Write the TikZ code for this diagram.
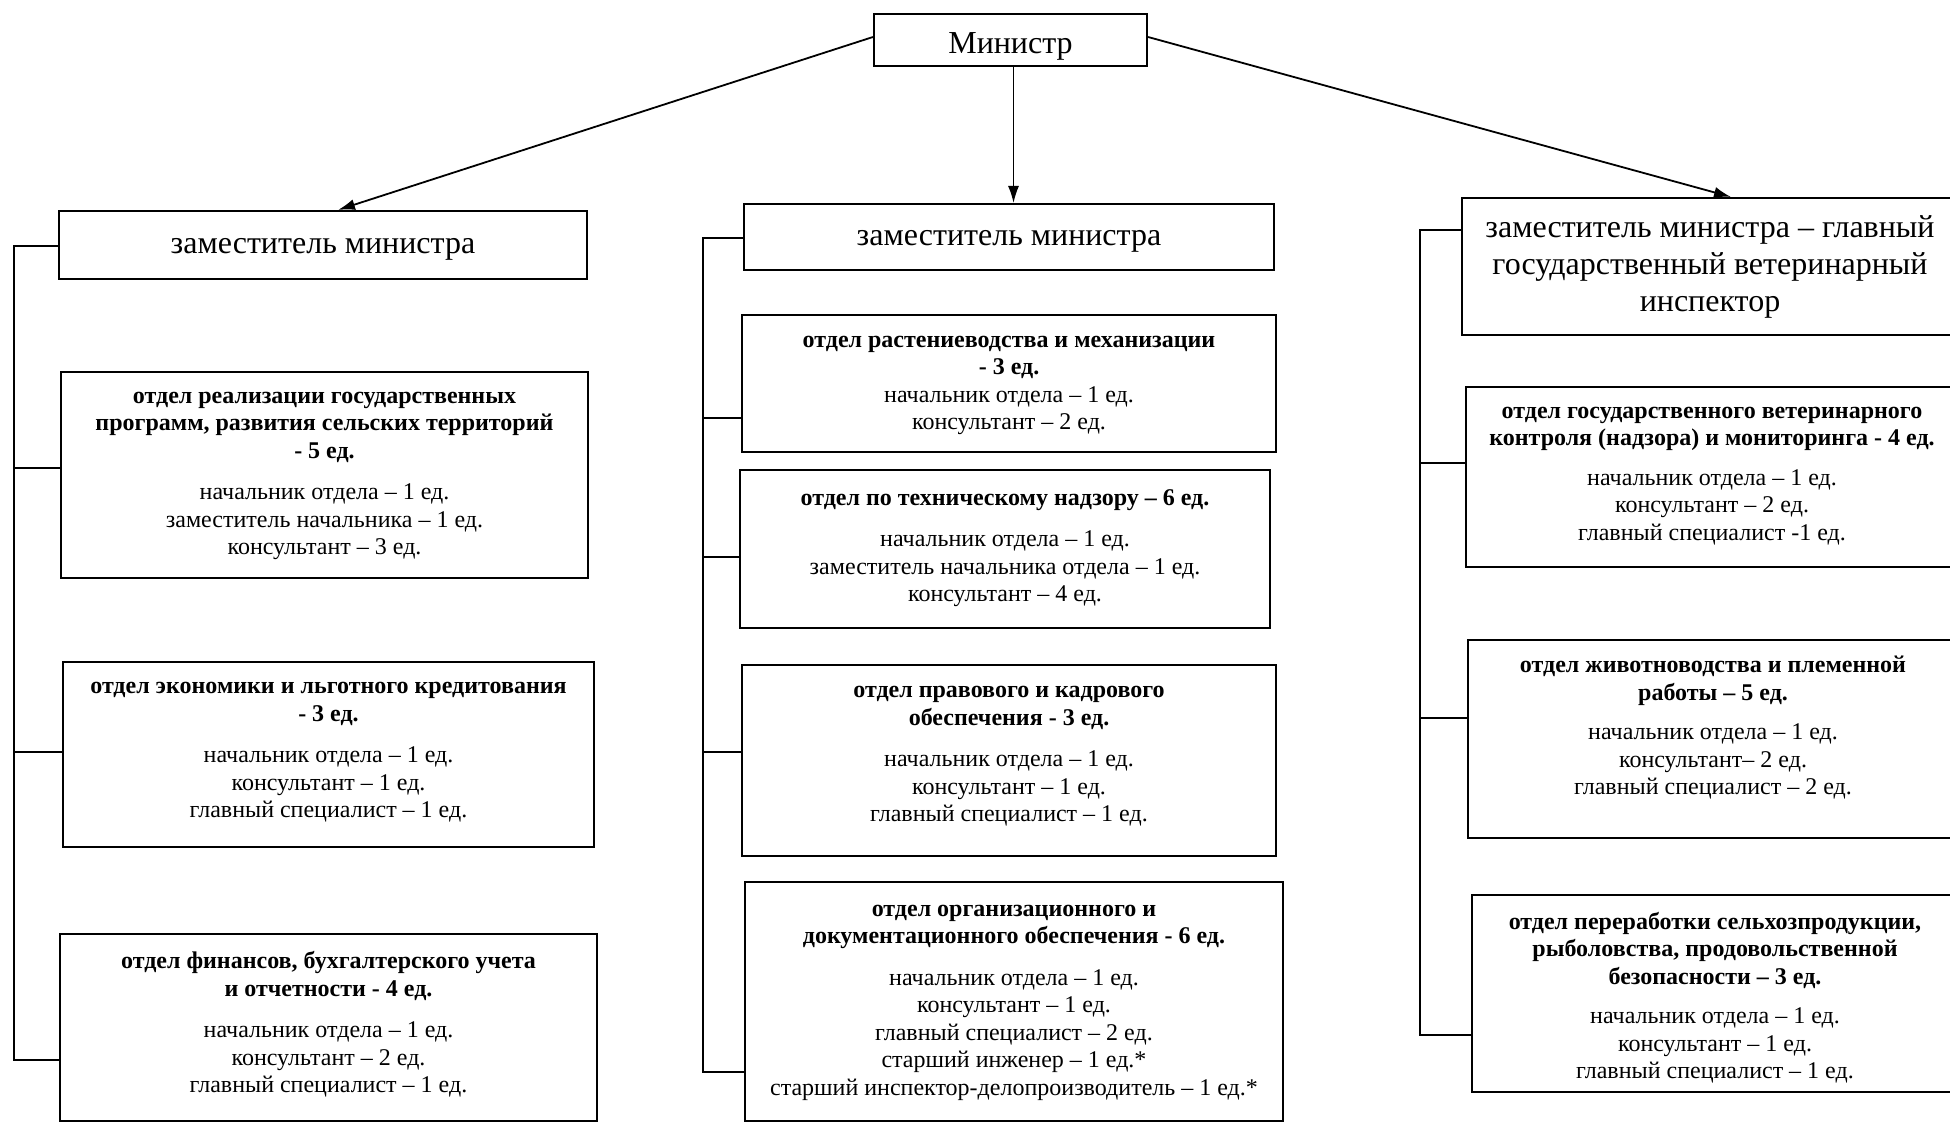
\documentclass[tikz,border=0pt]{standalone}
\usepackage{fontspec}
\setmainfont{Liberation Serif}
\usetikzlibrary{arrows.meta}
\newcommand\bt[1]{\textbf{#1}}
% #1 name, #2 x1, #3 y1, #4 x2, #5 y2, #6 text dy, #7 connection y, #8 font style, #9 text
\newcommand\bx[9]{%
  \node[boxshape, minimum width={(#4-#2)*1pt}, minimum height={(#5-#3)*1pt}] (#1) at ({(#2+#4)/2},{(#3+#5)/2}) {};
  \node[#8] (#1t) at ({(#2+#4)/2},{(#3+#5)/2+#6}) {#9};
  \coordinate (#1c) at ([yshift={((#3+#5)/2-#7)*1pt}]#1.west);
}
\begin{document}
\begin{tikzpicture}[x=1pt,y=-1pt,
  boxshape/.style={draw, rectangle, inner sep=0pt, line width=2.1pt},
  depttext/.style={inner sep=0pt, align=center, font=\fontsize{24pt}{27.5pt}\selectfont},
  deptext/.style={inner sep=0pt, align=center, font=\fontsize{32pt}{37pt}\selectfont},
  conn/.style={line width=1.7pt},
  arr/.style={line width=1.8pt, -{Latex[length=17pt,width=11pt]}}]
\fill[white] (0,0) rectangle (1950,1123);
\useasboundingbox (0,0) rectangle (1950,1123);

% top level
\bx{min}{874}{14}{1147}{66}{6}{40}{deptext}{Министр}
\bx{dl}{59}{211}{587}{279}{4}{246}{deptext}{заместитель министра}
\bx{dm}{744}{204}{1274}{270}{4}{238}{deptext}{заместитель министра}
\bx{dr}{1462}{198}{1958}{335}{0}{230}{deptext}{заместитель министра – главный\\государственный ветеринарный\\инспектор}

% left column
\bx{l1}{61}{372}{588}{578}{1}{468}{depttext}{\bt{отдел реализации государственных}\\\bt{программ, развития сельских территорий}\\\bt{- 5 ед.}\\[14pt]начальник отдела – 1 ед.\\заместитель начальника – 1 ед.\\консультант – 3 ед.}
\bx{l2}{63}{662}{594}{847}{-2}{752}{depttext}{\bt{отдел экономики и льготного кредитования}\\\bt{- 3 ед.}\\[14pt]начальник отдела – 1 ед.\\консультант – 1 ед.\\главный специалист – 1 ед.}
\bx{l3}{60}{934}{597}{1121}{-3}{1060}{depttext}{\bt{отдел финансов, бухгалтерского учета}\\\bt{и отчетности - 4 ед.}\\[14pt]начальник отдела – 1 ед.\\консультант – 2 ед.\\главный специалист – 1 ед.}

% middle column
\bx{m1}{742}{315}{1276}{452}{2}{418}{depttext}{\bt{отдел растениеводства и механизации}\\\bt{- 3 ед.}\\начальник отдела – 1 ед.\\консультант – 2 ед.}
\bx{m2}{740}{470}{1270}{628}{-1}{557}{depttext}{\bt{отдел по техническому надзору – 6 ед.}\\[14pt]начальник отдела – 1 ед.\\заместитель начальника отдела – 1 ед.\\консультант – 4 ед.}
\bx{m3}{742}{665}{1276}{856}{-4}{752}{depttext}{\bt{отдел правового и кадрового}\\\bt{обеспечения - 3 ед.}\\[14pt]начальник отдела – 1 ед.\\консультант – 1 ед.\\главный специалист – 1 ед.}
\bx{m4}{745}{882}{1283}{1121}{1}{1072}{depttext}{\bt{отдел организационного и}\\\bt{документационного обеспечения - 6 ед.}\\[14pt]начальник отдела – 1 ед.\\консультант – 1 ед.\\главный специалист – 2 ед.\\старший инженер – 1 ед.*\\старший инспектор-делопроизводитель – 1 ед.*}

% right column
\bx{r1}{1466}{387}{1958}{567}{-1}{463}{depttext}{\bt{отдел государственного ветеринарного}\\\bt{контроля (надзора) и мониторинга - 4 ед.}\\[12pt]начальник отдела – 1 ед.\\консультант – 2 ед.\\главный специалист -1 ед.}
\bx{r2}{1468}{640}{1958}{838}{-11}{718}{depttext}{\bt{отдел животноводства и племенной}\\\bt{работы – 5 ед.}\\[12pt]начальник отдела – 1 ед.\\консультант– 2 ед.\\главный специалист – 2 ед.}
\bx{r3}{1472}{895}{1958}{1092}{4}{1035}{depttext}{\bt{отдел переработки сельхозпродукции,}\\\bt{рыболовства, продовольственной}\\\bt{безопасности – 3 ед.}\\[12pt]начальник отдела – 1 ед.\\консультант – 1 ед.\\главный специалист – 1 ед.}

% arrows from the minister
\draw[arr] ([yshift=3pt]min.west) -- ([xshift=15pt]dl.north);
\draw[arr, line width=1.4pt] ([xshift=3pt]min.south) -- ([xshift=3pt]min.south |- dm.north);
\draw[arr] ([yshift=3pt]min.east) -- ([xshift=21pt]dr.north);

% spines
\coordinate (ls) at (14,0);
\coordinate (ms) at (703,0);
\coordinate (rs) at (1420,0);

\draw[conn] (dlc) -- (dlc -| ls) -- (l3c -| ls) -- (l3c);
\draw[conn] (l1c -| ls) -- (l1c);
\draw[conn] (l2c -| ls) -- (l2c);

\draw[conn] (dmc) -- (dmc -| ms) -- (m4c -| ms) -- (m4c);
\draw[conn] (m1c -| ms) -- (m1c);
\draw[conn] (m2c -| ms) -- (m2c);
\draw[conn] (m3c -| ms) -- (m3c);

\draw[conn] (drc) -- (drc -| rs) -- (r3c -| rs) -- (r3c);
\draw[conn] (r1c -| rs) -- (r1c);
\draw[conn] (r2c -| rs) -- (r2c);
\end{tikzpicture}
\end{document}
